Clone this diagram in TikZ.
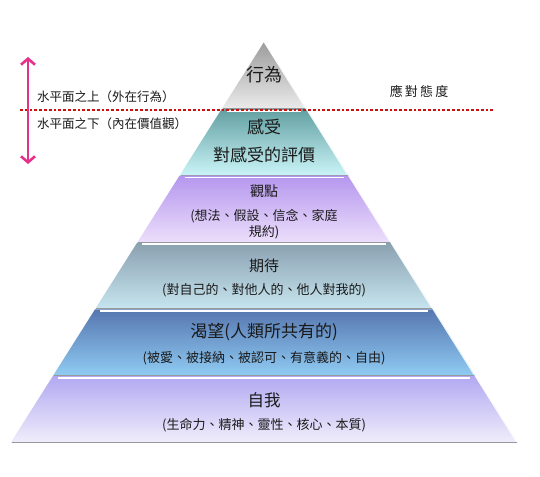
\documentclass[tikz,border=0pt]{standalone}
\usepackage{fontspec}
\setmainfont{Noto Sans CJK TC}
\usetikzlibrary{calc,arrows.meta}
\definecolor{laat}{HTML}{9C9C9C}
\definecolor{laab}{HTML}{EBEBEB}
\definecolor{lbbt}{HTML}{629FA2}
\definecolor{lbbb}{HTML}{CBF5F8}
\definecolor{lcct}{HTML}{B596EE}
\definecolor{lccb}{HTML}{ECDFFB}
\definecolor{lddt}{HTML}{8AA0B0}
\definecolor{lddb}{HTML}{C7E6F0}
\definecolor{leet}{HTML}{5677B0}
\definecolor{leeb}{HTML}{90CCF3}
\definecolor{lfft}{HTML}{B2A9F2}
\definecolor{lffb}{HTML}{F0EEFB}
\definecolor{dotred}{HTML}{CC1111}
\definecolor{arrmag}{HTML}{E6318A}
\definecolor{txt}{HTML}{1A1A1A}
\begin{document}
\begin{tikzpicture}[x=1pt,y=-1pt,
  every node/.style={text=txt, inner sep=0pt},
  head/.style={font=\fontsize{17}{19}\selectfont},
  sub/.style={font=\fontsize{13}{15}\selectfont},
  side/.style={font=\fontsize{12.5}{14}\selectfont, anchor=west}]
\useasboundingbox (0,0) rectangle (540,476);
\fill[white] (0,0) rectangle (540,476);
\coordinate (A) at (264,42);
\coordinate (L) at (10.5,443);
\coordinate (R) at (517.5,443);
\foreach \i/\ct/\cb in {0/laat/laab,1/lbbt/lbbb,2/lcct/lccb,3/lddt/lddb,4/leet/leeb,5/lfft/lffb}{
  \pgfmathsetmacro\ta{\i/6}
  \pgfmathsetmacro\tb{(\i+1)/6}
  \shade[top color=\ct, bottom color=\cb]
    ($(A)!\ta!(L)$) -- ($(A)!\tb!(L)$) -- ($(A)!\tb!(R)$) -- ($(A)!\ta!(R)$) -- cycle;
  \draw[white!85!\cb, line width=0.8pt] ($(A)!\ta!(R)$) -- ($(A)!\tb!(R)+(-1,-1)$);
  \draw[black!40, line width=0.9pt] ($(A)!\tb!(L)+(1,-0.5)$) -- ($(A)!\tb!(R)+(-1,-0.5)$);
  \ifnum\i>0
    \draw[white, line width=1.8pt] ($(A)!\ta!(L)+(5,1.8)$) -- ($(A)!\ta!(R)+(-5,1.8)$);
  \fi
}
% texts
\node[head, font=\fontsize{18}{20}\selectfont] (xw) at (264,75) {行為};
\node[head] (gs) at (264,127) {感受};
\node[head] (pj) at (264,155) {對感受的評價};
\node[head, font=\fontsize{14}{16}\selectfont] (gd) at (264,191) {觀點};
\node[sub] (gd1) at (264,216) {(想法、假設、信念、家庭};
\node[sub] (gd2) at (264,232) {規約)};
\node[head, font=\fontsize{15}{17}\selectfont] (qd) at (264,266) {期待};
\node[sub] (qd1) at (264,290) {(對自己的、對他人的、他人對我的)};
\node[head] (kw) at (264,332) {渴望(人類所共有的)};
\node[sub] (kw1) at (264,358) {(被愛、被接納、被認可、有意義的、自由)};
\node[head, font=\fontsize{16.5}{18}\selectfont] (zw) at (264,400) {自我};
\node[sub] (zw1) at (264,425) {(生命力、精神、靈性、核心、本質)};
% waterline
\coordinate (d1) at (20,110);
\coordinate (d2) at (493,110);
\draw[dotred, line width=2.8pt, dash pattern=on 2.8pt off 2pt] (d1) -- (d2);
% arrow
\coordinate (a1) at (28,57);
\coordinate (a2) at (28,164);
\draw[arrmag, line width=2.6pt, line cap=round,
  {Straight Barb[length=6pt,width=14pt,line width=2.6pt]}-{Straight Barb[length=6pt,width=14pt,line width=2.6pt]}] (a1) -- (a2);
% side labels
\node[side] (up) at (37,97) {水平面之上（外在行為）};
\node[side] (dn) at (37,124) {水平面之下（內在價值觀）};
\node[side, anchor=center, font=\fontsize{13}{15}\selectfont] (yd) at (419,91) {應\,對\,態\,度};
\end{tikzpicture}
\end{document}
